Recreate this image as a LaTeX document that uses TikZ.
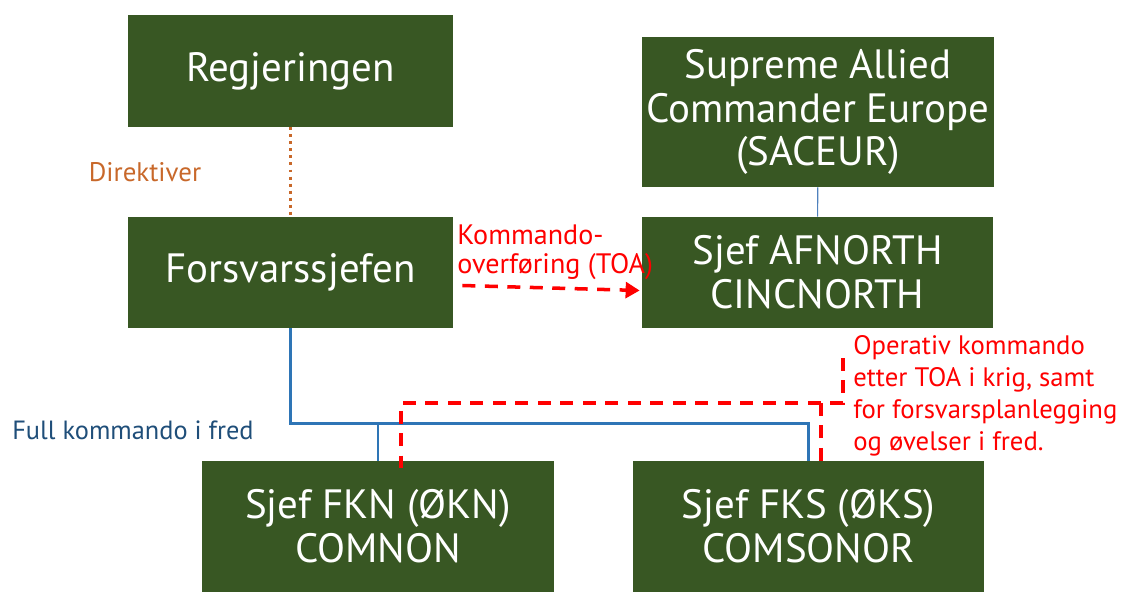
\documentclass[tikz,border=0pt]{standalone}
\usepackage{fontspec}
\setmainfont{PT Sans}
\usetikzlibrary{arrows.meta}

\definecolor{boxgreen}{HTML}{385723}
\definecolor{dirorange}{HTML}{C8682A}
\definecolor{cmdblue}{HTML}{2E75B6}
\definecolor{txtblue}{HTML}{1F4E79}
\definecolor{linkblue}{HTML}{4F81BD}

\tikzset{
  unit/.style={fill=boxgreen, text=white, align=center, inner sep=0pt,
    font=\fontsize{23.3}{25}\selectfont},
  direktiv/.style={dirorange, line width=1.7pt, dash pattern=on 1.7pt off 2.3pt},
  fullcmd/.style={cmdblue, line width=1.7pt},
  opcmd/.style={red, line width=2pt, dash pattern=on 7.4pt off 5.4pt},
  redtxt/.style={red, align=left, inner sep=0pt}
}

\begin{document}
\begin{tikzpicture}[x=0.02cm, y=-0.02cm]
  \useasboundingbox (0,0) rectangle (1123,592);
  % units
  \node[unit, minimum width=6.5cm, minimum height=2.24cm] (reg) at (290.5,71) {Regjeringen};
  \node[unit, minimum width=6.5cm, minimum height=2.22cm] (fors) at (290.5,272.5) {Forsvarssjefen};
  \node[unit, minimum width=7.04cm, minimum height=3cm] (sac) at (818,112)
    {Supreme Allied\\Commander Europe\\(SACEUR)};
  \node[unit, minimum width=7.02cm, minimum height=2.22cm] (afn) at (817.5,272.5)
    {Sjef AFNORTH\\CINCNORTH};
  \node[unit, minimum width=7.04cm, minimum height=2.62cm] (fkn) at (378,526.5)
    {Sjef FKN (ØKN)\\COMNON};
  \node[unit, minimum width=7.02cm, minimum height=2.62cm] (fks) at (808.5,526.5)
    {Sjef FKS (ØKS)\\COMSONOR};
  % labels
  \node[dirorange, font=\fontsize{15.3}{18}\selectfont] (dir) at (145,172) {Direktiver};
  \node[txtblue, font=\fontsize{15}{18}\selectfont] (full) at (133,430) {Full kommando i fred};
  \node[redtxt, anchor=north west, font=\fontsize{16}{17}\selectfont] (toa) at (457,224)
    {Kommando-\\overføring (TOA)};
  \node[redtxt, anchor=north west, font=\fontsize{15.2}{18.2}\selectfont] (optxt) at (853,335)
    {Operativ kommando\\etter TOA i krig, samt\\for forsvarsplanlegging\\og øvelser i fred.};
  \coordinate (opstart) at (843,358);
  % lines between units
  \draw[direktiv] (reg) -- (fors);
  \draw[linkblue, line width=0.6pt] (sac) -- (afn);
  \draw[fullcmd] (fors.south) -- ++(0,95) coordinate (b1) -| (fks.north);
  \draw[fullcmd] (b1 -| fkn.north) -- (fkn.north);
  % transfer of authority
  \draw[opcmd, -{Triangle[length=8pt, width=9pt]}]
    ([shift={(9,13)}]fors.east) -- ([shift={(-2,18)}]afn.west);
  % operational command
  \coordinate (r2) at ([xshift=0.25cm, yshift=-0.14cm]fks.north);
  \draw[opcmd] (opstart) -- ++(0,45) coordinate (r1)
    -| ([xshift=0.46cm, yshift=-0.14cm]fkn.north);
  \draw[opcmd] (r2 |- r1) -- (r2);
\end{tikzpicture}
\end{document}
